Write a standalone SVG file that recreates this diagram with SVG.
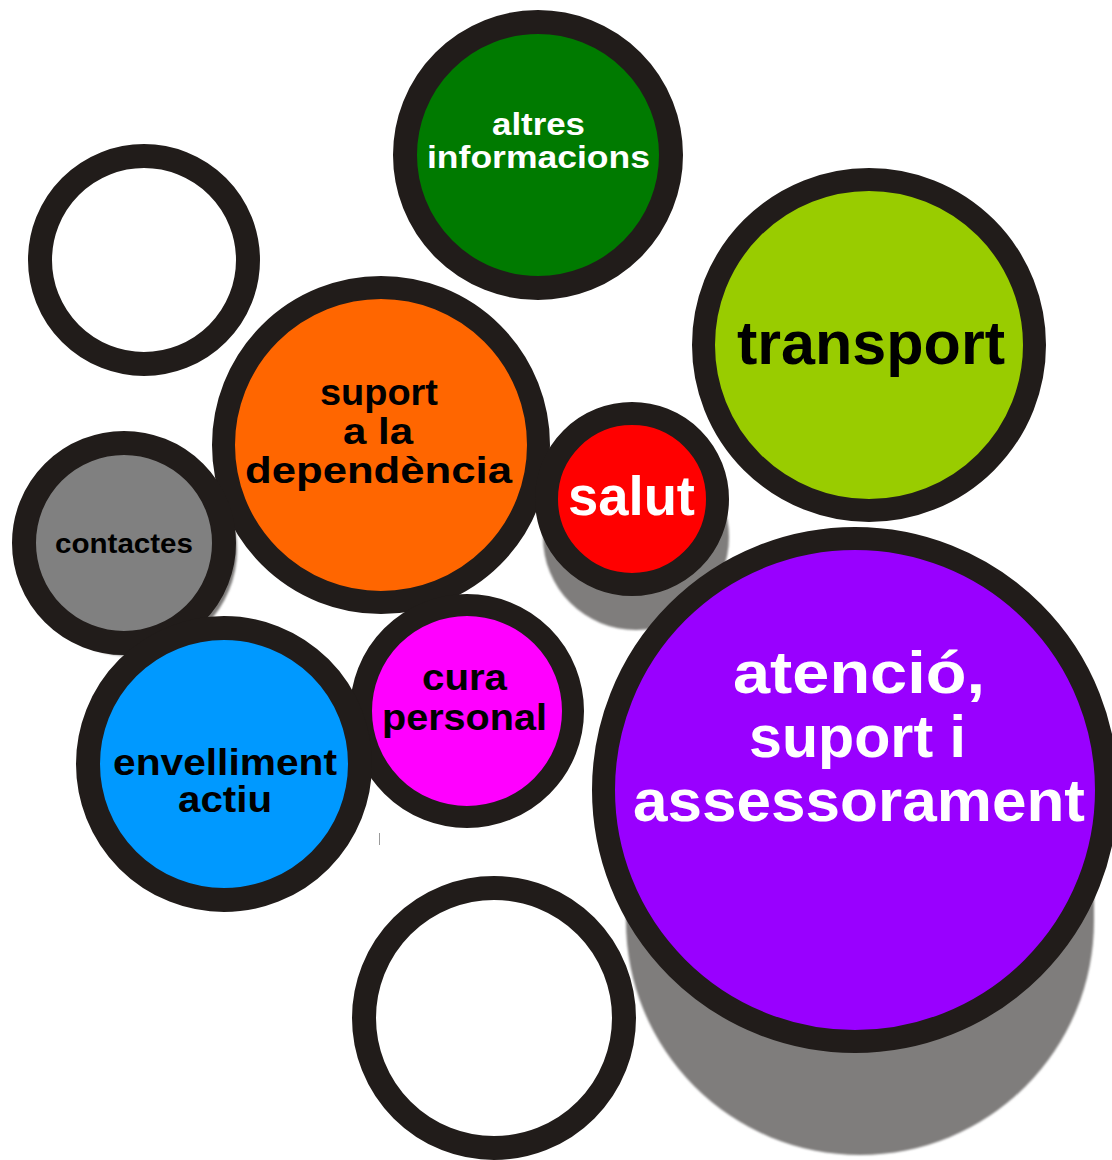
<svg xmlns="http://www.w3.org/2000/svg" width="1112" height="1160" viewBox="0 0 1112 1160">
<defs>
<filter id="soft" x="-10%" y="-10%" width="120%" height="120%"><feGaussianBlur stdDeviation="1.2"/></filter>
</defs>
<style>
.ring{stroke:#211c1a;stroke-width:23}
.shadow{fill:#7f7d7c;filter:url(#soft)}
.lbl{font-family:"Liberation Sans",Arial,sans-serif;font-weight:bold;text-anchor:middle}
.w{fill:#ffffff}
.k{fill:#000000}
</style>
<rect width="1112" height="1160" fill="#ffffff"/>
<g id="shadows">
<path class="shadow" d="M626,790 A234,234 0 0 1 1094,790 L1094,921 A234,234 0 0 1 626,921 Z"/>
<circle class="shadow" cx="636" cy="537" r="93"/>
<circle class="shadow" cx="131" cy="550" r="106"/>
</g>
<g id="connectors"></g>
<g id="altres-informacions">
<circle class="ring" cx="538" cy="155" r="133" fill="#007a00" style="stroke-width:24"/>
<text class="lbl w" x="538.5" y="135" font-size="31" textLength="93" lengthAdjust="spacingAndGlyphs">altres</text>
<text class="lbl w" x="538.5" y="168" font-size="31" textLength="223" lengthAdjust="spacingAndGlyphs">informacions</text>
</g>
<g id="empty-top-left">
<circle class="ring" cx="144" cy="260" r="104" fill="#ffffff" style="stroke-width:24"/>
</g>
<g id="transport">
<circle class="ring" cx="869" cy="345" r="165.5" fill="#99cc00"/>
<text class="lbl k" x="871" y="364" font-size="61" textLength="268" lengthAdjust="spacingAndGlyphs">transport</text>
</g>
<g id="suport-dependencia">
<circle class="ring" cx="381" cy="445" r="157.5" fill="#ff6600"/>
<text class="lbl k" x="379" y="405" font-size="37" textLength="118" lengthAdjust="spacingAndGlyphs">suport</text>
<text class="lbl k" x="378" y="444" font-size="37" textLength="70" lengthAdjust="spacingAndGlyphs">a la</text>
<text class="lbl k" x="378.5" y="483" font-size="37" textLength="267" lengthAdjust="spacingAndGlyphs">dependència</text>
</g>
<g id="salut">
<circle class="ring" cx="632" cy="499" r="85.5" fill="#ff0000"/>
<text class="lbl w" x="631.5" y="515" font-size="55" textLength="127" lengthAdjust="spacingAndGlyphs">salut</text>
</g>
<g id="contactes">
<circle class="ring" cx="124" cy="543" r="100" fill="#808080" style="stroke-width:24"/>
<text class="lbl k" x="124" y="553" font-size="28" textLength="138" lengthAdjust="spacingAndGlyphs">contactes</text>
</g>
<g id="cura-personal">
<circle class="ring" cx="467" cy="711" r="106" fill="#ff00ff" style="stroke-width:22"/>
<text class="lbl k" x="464.5" y="690" font-size="37" textLength="85" lengthAdjust="spacingAndGlyphs">cura</text>
<text class="lbl k" x="464.5" y="730" font-size="37" textLength="165" lengthAdjust="spacingAndGlyphs">personal</text>
</g>
<g id="envelliment-actiu">
<circle class="ring" cx="224" cy="764" r="136" fill="#0099ff" style="stroke-width:24"/>
<text class="lbl k" x="225" y="775" font-size="36" textLength="224" lengthAdjust="spacingAndGlyphs">envelliment</text>
<text class="lbl k" x="225" y="812" font-size="36" textLength="94" lengthAdjust="spacingAndGlyphs">actiu</text>
</g>
<g id="atencio-suport-assessorament">
<circle class="ring" cx="855" cy="790" r="251.5" fill="#9900ff"/>
<text class="lbl w" x="859" y="693" font-size="60" textLength="252" lengthAdjust="spacingAndGlyphs">atenció,</text>
<text class="lbl w" x="857.5" y="757" font-size="60" textLength="217" lengthAdjust="spacingAndGlyphs">suport i</text>
<text class="lbl w" x="859" y="821" font-size="60" textLength="452" lengthAdjust="spacingAndGlyphs">assessorament</text>
</g>
<g id="empty-bottom">
<circle class="ring" cx="494" cy="1018" r="130" fill="#ffffff" style="stroke-width:24"/>
</g>
<line x1="379.5" y1="833" x2="379.5" y2="845" stroke="#9a9a9a" stroke-width="1"/>
</svg>
